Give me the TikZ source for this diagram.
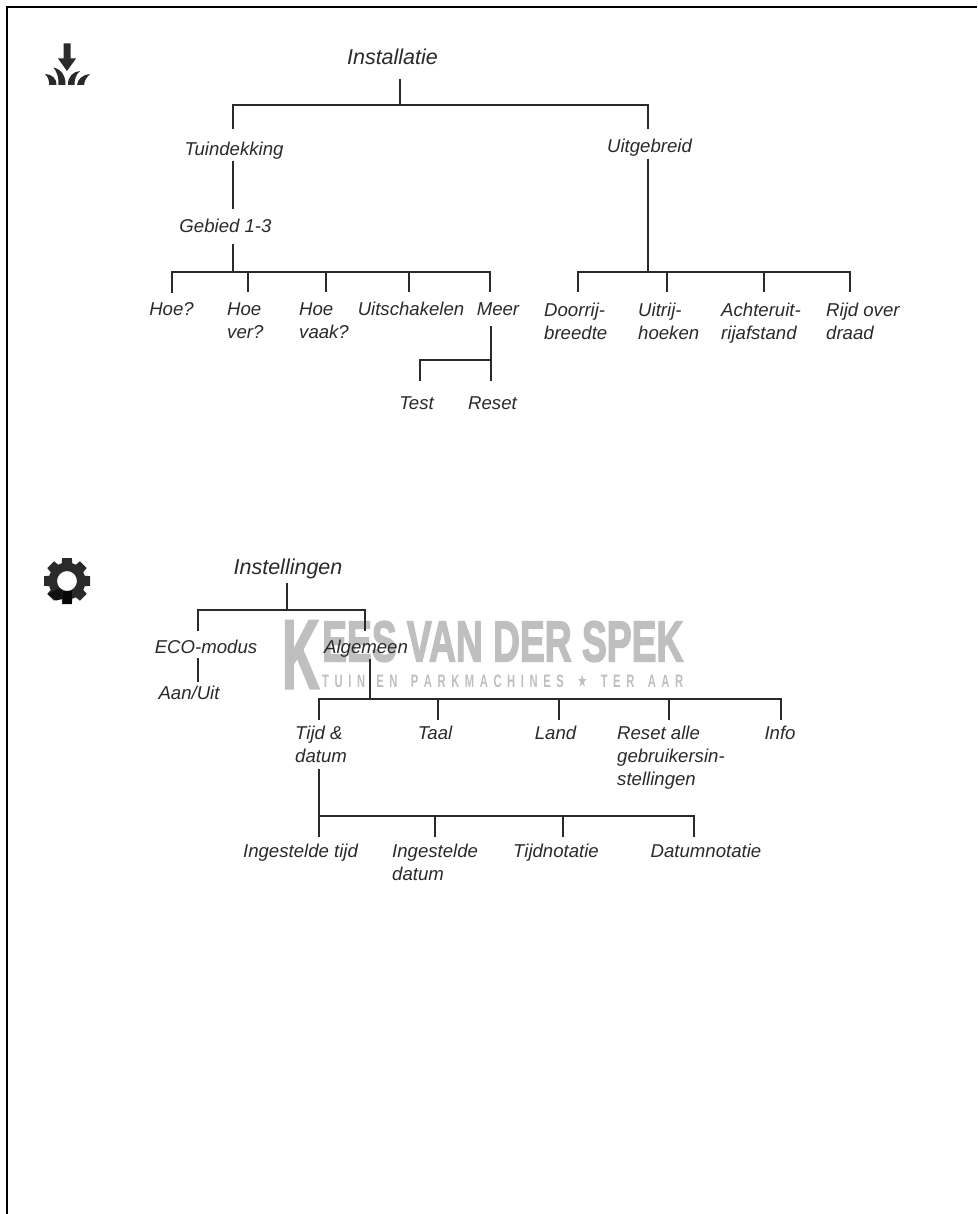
\documentclass[tikz,border=0pt]{standalone}
\usepackage{fontspec}
\setmainfont{Liberation Sans}
\newfontfamily\starfont{DejaVu Sans}
\newfontfamily\wmfont[FakeBold=3]{Liberation Sans Bold}
\newfontfamily\wmsub{Liberation Sans Bold}
\tikzset{
  lbl/.style={font=\fontsize{18.6}{23}\selectfont\itshape,text=ink,inner sep=0pt,align=left,anchor=base},
  mlbl/.style={font=\fontsize{18.6}{23}\selectfont\itshape,text=ink,inner sep=0pt,align=left,anchor=north west},
  big/.style={font=\fontsize{21.5}{26}\selectfont\itshape,text=ink,inner sep=0pt,anchor=base},
  wire/.style={draw=ink,line width=2pt,line cap=butt,line join=miter},
}
\definecolor{ink}{HTML}{2B2A2A}
\definecolor{wm}{HTML}{BFBFBF}
\begin{document}
\begin{tikzpicture}[x=1pt,y=-1pt]
\useasboundingbox (0,0) rectangle (977,1214);
\fill[white] (0,0) rectangle (977,1214);
% frame
\coordinate (fa) at (7,1214); \coordinate (fb) at (7,7); \coordinate (fc) at (977,7);
\draw[black,line width=1.6pt] (fa) -- (fb) -- (fc);
% watermark
\node[anchor=north west,inner sep=0pt,text=wm] (wmk) at (282,621) {\resizebox{37pt}{67pt}{\wmfont K}};
\node[anchor=north west,inner sep=0pt,text=wm] (wmt) at (322,621) {\resizebox{361pt}{40pt}{\wmfont EES VAN DER SPEK}};
\node[anchor=north west,inner sep=0pt,text=wm] (wms) at (322,674) {\resizebox{361pt}{13pt}{\wmsub T\kern.5em U\kern.5em I\kern.5em N\kern1em E\kern.5em N\kern1.2em P\kern.5em A\kern.5em R\kern.5em K\kern.5em M\kern.5em A\kern.5em C\kern.5em H\kern.5em I\kern.5em N\kern.5em E\kern.5em S\kern1.2em{\starfont ★}\kern1.2em T\kern.5em E\kern.5em R\kern1.2em A\kern.5em A\kern.5em R}};
% top tree labels
\node[big] (inst) at (392.5,65) {Installatie};
\node[lbl] (tuin) at (234,156) {Tuindekking};
\node[lbl] (uitg) at (649.5,153) {Uitgebreid};
\node[lbl] (geb) at (225.5,233) {Gebied 1-3};
\node[lbl] (hoe) at (171.5,316) {Hoe?};
\node[mlbl] (hoever) at (227,303) {Hoe\\ver?};
\node[mlbl] (hoevaak) at (299,303) {Hoe\\vaak?};
\node[lbl] (uitsch) at (411,316) {Uitschakelen};
\node[lbl] (meer) at (498,316) {Meer};
\node[lbl] (test) at (416.5,409) {Test};
\node[lbl] (reset) at (492.5,409) {Reset};
\node[mlbl] (door) at (544,303) {Doorrij-\\breedte};
\node[mlbl] (uitrij) at (638,303) {Uitrij-\\hoeken};
\node[mlbl] (acht) at (721,303) {Achteruit-\\rijafstand};
\node[mlbl] (rijd) at (826,303) {Rijd over\\draad};
% connectors top
\coordinate (j0) at (400,105);
\coordinate (t1) at (400,79);
\draw[wire] (t1) -- (j0);
\coordinate (tl) at (233,129); \coordinate (tr) at (648,129);
\draw[wire] (tl) |- (j0) -| (tr);
\coordinate (tb) at (233,161); \coordinate (gt) at (233,209); \coordinate (gb) at (233,244); \coordinate (gj) at (233,272);
\draw[wire] (tb) -- (gt);
\draw[wire] (gb) -- (gj);
\coordinate (d1) at (172,293); \coordinate (d2) at (248,292); \coordinate (d3) at (326,292); \coordinate (d4) at (409,292); \coordinate (d5) at (490,292);
\draw[wire] (d1) |- (gj) -| (d5);
\draw[wire] (d2) -- (d2 |- gj);
\draw[wire] (d3) -- (d3 |- gj);
\draw[wire] (d4) -- (d4 |- gj);
\coordinate (mt) at (491,326); \coordinate (mj) at (491,360); \coordinate (mb) at (491,381); \coordinate (md) at (420,381);
\draw[wire] (mt) -- (mb);
\draw[wire] (md) |- (mj);
\coordinate (ub) at (648,159); \coordinate (uj) at (648,272);
\draw[wire] (ub) -- (uj);
\coordinate (e1) at (578,292); \coordinate (e2) at (667,292); \coordinate (e3) at (764,292); \coordinate (e4) at (850,292);
\draw[wire] (e1) |- (uj) -| (e4);
\draw[wire] (e2) -- (e2 |- uj);
\draw[wire] (e3) -- (e3 |- uj);
% bottom tree labels
\node[big] (inste) at (288,574) {Instellingen};
\node[lbl] (eco) at (206,653) {ECO-modus};
\node[lbl] (alg) at (366,653) {Algemeen};
\node[lbl] (aan) at (189,699) {Aan/Uit};
\node[mlbl] (tijd) at (295,726) {Tijd \&\\datum};
\node[lbl] (taal) at (435,739) {Taal};
\node[lbl] (land) at (555.5,739) {Land};
\node[mlbl] (rst) at (617,726) {Reset alle\\gebruikersin-\\stellingen};
\node[lbl] (info) at (780,739) {Info};
\node[lbl] (itijd) at (300.5,857) {Ingestelde tijd};
\node[mlbl] (idat) at (392,844) {Ingestelde\\datum};
\node[lbl] (tijdn) at (556,857) {Tijdnotatie};
\node[lbl] (datn) at (706,857) {Datumnotatie};
% connectors bottom
\coordinate (s0) at (287,583); \coordinate (s1) at (287,610);
\draw[wire] (s0) -- (s1);
\coordinate (sl) at (198,631); \coordinate (sr) at (365,631);
\draw[wire] (sl) |- (s1) -| (sr);
\coordinate (ea) at (198,658); \coordinate (eb) at (198,682);
\draw[wire] (ea) -- (eb);
\coordinate (aa) at (370,659); \coordinate (ab) at (370,699);
\draw[wire] (aa) -- (ab);
\coordinate (f1) at (319,720); \coordinate (f2) at (438,720); \coordinate (f3) at (559,720); \coordinate (f4) at (669,720); \coordinate (f5) at (781,720);
\draw[wire] (f1) |- (ab) -| (f5);
\draw[wire] (f2) -- (f2 |- ab);
\draw[wire] (f3) -- (f3 |- ab);
\draw[wire] (f4) -- (f4 |- ab);
\coordinate (ta) at (319,769); \coordinate (tj) at (319,816);
\draw[wire] (ta) -- (tj);
\coordinate (g1) at (319,837); \coordinate (g2) at (435,837); \coordinate (g3) at (563,837); \coordinate (g4) at (694,837);
\draw[wire] (g1) -- (tj) -| (g4);
\draw[wire] (g2) -- (g2 |- tj);
\draw[wire] (g3) -- (g3 |- tj);
% icon: arrow and grass
\fill[ink] (63.5,43.5) -- (70.5,43.5) -- (70.5,58.5) -- (76,58.5) -- (67,71) -- (58,58.5) -- (63.5,58.5) -- cycle;
\fill[ink] (45,74) .. controls (52,74) and (57,79) .. (56.5,85) -- (49,85) .. controls (49.5,81) and (48,77) .. (45,74) -- cycle;
\fill[ink] (53.5,67.5) .. controls (61,69) and (66,76) .. (65.5,85) -- (58.5,85) .. controls (59,78) and (57,72) .. (53.5,67.5) -- cycle;
\fill[ink] (80,71) .. controls (73,71.5) and (67.5,77) .. (68,85) -- (74.5,85) .. controls (74.5,79) and (76,74.5) .. (80,71) -- cycle;
\fill[ink] (90,74) .. controls (83,74.5) and (77.5,79) .. (77,85) -- (84,85) .. controls (84.5,80) and (87,77) .. (90,74) -- cycle;
% icon: gear
\begin{scope}[shift={(67,581)}]
\fill[ink,even odd rule] (0,0) circle[radius=18.5] (0,0) circle[radius=10];
\foreach \a in {0,45,...,315}{
  \fill[ink,rotate=\a] (15.5,-5.5) -- (23,-4.8) -- (23,4.8) -- (15.5,5.5) -- cycle;
}
\fill[black!85!ink] (-4.5,9.5) -- (4.5,9.5) -- (4.5,23) -- (-4.5,23) -- cycle;
\fill[black!60!ink] (-7.5,7) -- (-4.5,9) -- (-4.5,18) -- (-11,19.5) -- (-19.5,13) -- cycle;
\end{scope}
\end{tikzpicture}
\end{document}
